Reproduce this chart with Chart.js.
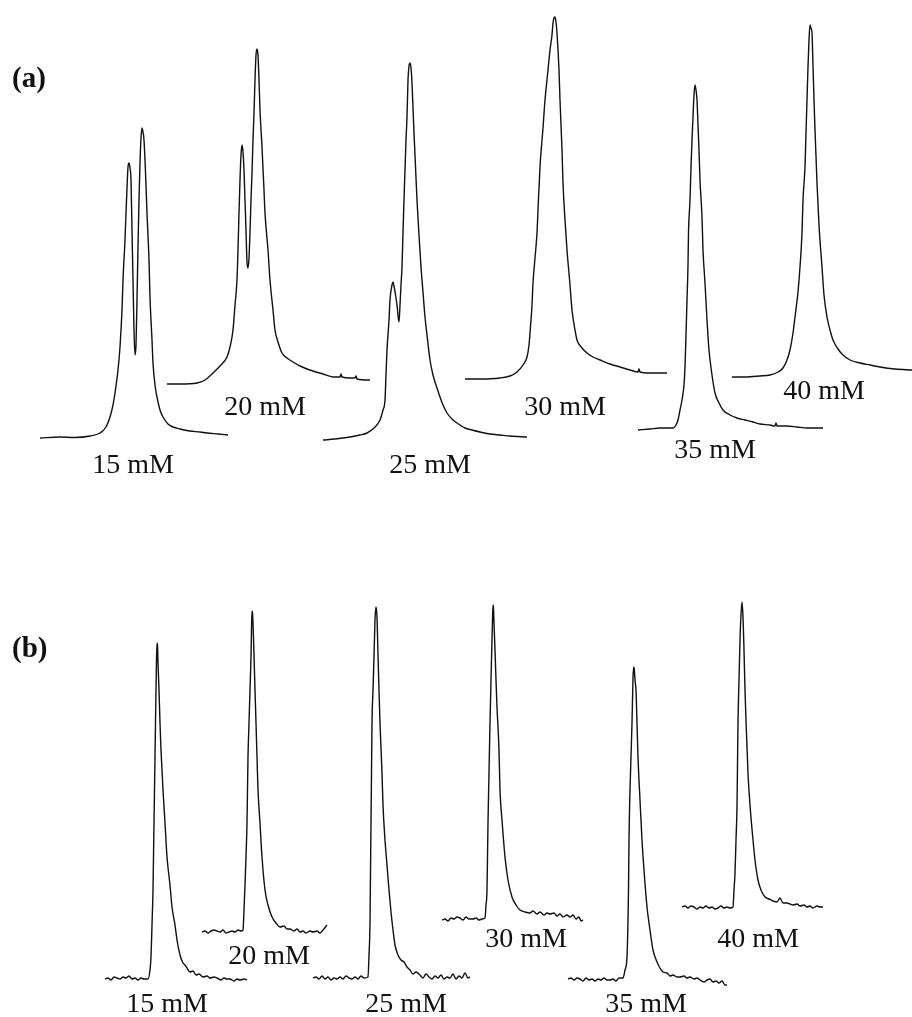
<!DOCTYPE html>
<html>
<head>
<meta charset="utf-8">
<script src="https://cdn.jsdelivr.net/npm/chart.js@4.4.1/dist/chart.umd.min.js"></script>
<style>
html,body{margin:0;padding:0;background:#fff;}
#wrap{width:912px;height:1017px;position:relative;}
</style>
</head>
<body>
<div id="wrap"><canvas id="c" width="912" height="1017"></canvas></div>
<script>
// Panel labels and concentration labels
const panelLabels = ["(a)", "(b)"];
const concLabels = ["15 mM", "20 mM", "25 mM", "30 mM", "35 mM", "40 mM"];

// Panel (a) traces: [position, signal] pairs (signal axis grows downward in picture units)
const a15 = [[40,438],[60,437],[75,437.5],[90,436],[100,433],[106,427],[110,417],[113,405],[115,393],[118,370],[120,347],[122,310],[123,280],[125,240],[126,213],[127,188],[128,167],[129,163],[130,168],[131,180],[132,230],[133,280],[134,330],[135,355],[136,345],[137,300],[138,247],[139,200],[140,163],[141,138],[142,128],[143,132],[144,140],[146,185],[147,213],[149,260],[150,297],[152,340],[153,363],[155,385],[157,397],[160,410],[163,417],[168,424],[173,427],[180,429],[190,431],[200,432],[207,433],[218,434],[228,435]];
const a20 = [[167,384],[180,384],[197,383],[205,380],[213,373],[220,366],[227,357],[230,347],[233,330],[235,305],[237,280],[238,250],[239,213],[240,180],[241,155],[242,145],[243,152],[244,170],[245,200],[246,230],[247,262],[248,268],[249,258],[250,232],[251,200],[252,173],[253,140],[254,113],[255,80],[256,55],[257,49],[258,55],[259,80],[260,110],[262,147],[264,190],[265,213],[268,250],[270,280],[273,310],[275,330],[278,342],[282,353],[287,358],[293,362],[300,366],[313,371],[323,374],[333,377],[340,377],[341,374],[342,377],[350,378],[355,378],[356,376],[357,379],[370,380]];
const a25 = [[323,440],[335,439],[350,437],[360,435],[367,433],[374,428],[380,420],[383,410],[385,400],[386,375],[387,350],[389,320],[390,300],[392,285],[393,282],[394,286],[396,298],[397,305],[399,322],[400,305],[401,285],[402,267],[403,233],[404,200],[405,170],[406,140],[407,117],[408,80],[409,66],[410,63],[411,68],[412,83],[413,108],[414,133],[415,155],[417,200],[419,235],[421,267],[423,292],[425,317],[427,335],[430,360],[433,375],[437,388],[440,397],[443,405],[447,413],[452,419],[457,423],[465,428],[472,430],[480,432],[490,434],[500,435],[510,436],[527,437]];
const a30 = [[465,379],[480,379],[500,378],[510,376],[517,372],[523,365],[527,357],[529,345],[530,333],[532,305],[533,283],[535,258],[537,233],[538,210],[540,167],[543,128],[545,100],[548,70],[550,50],[552,35],[553,23],[554,18],[555,17],[556,22],[557,33],[559,70],[560,100],[562,150],[563,183],[565,220],[567,250],[570,285],[572,310],[575,330],[577,340],[582,348],[587,353],[593,357],[600,360],[610,364],[620,367],[630,370],[638,372],[639,369],[640,372],[650,373],[667,373]];
const a35 = [[638,430],[650,429],[660,428],[673,428],[676,425],[678,420],[680,410],[682,400],[684,385],[685,367],[686,335],[687,300],[688,265],[688.5,233],[690,200],[691,167],[692,140],[693,117],[694,95],[695,85],[696,90],[697,100],[698,125],[699,150],[700,180],[702,217],[703,250],[705,283],[707,320],[709,350],[712,375],[715,393],[719,403],[723,410],[730,415],[737,418],[745,420],[753,422],[760,424],[770,425],[775,426],[776,423],[777,426],[787,426],[797,427],[807,428],[815,428],[823,428]];
const a40 = [[732,377],[745,377],[760,376],[770,375],[778,372],[783,368],[787,360],[790,350],[793,333],[795,317],[798,292],[800,267],[802,233],[803,200],[805,167],[806,133],[807,100],[808,67],[809,40],[810,25],[811,28],[812,33],[813,66],[814,100],[815,130],[817,183],[819,225],[822,267],[824,295],[827,317],[830,330],[833,340],[838,349],[843,355],[850,360],[860,363],[870,365],[880,367],[895,369],[912,370]];

// Panel (b) traces
const b15 = [[105,979],[108,978],[111,980],[114,977],[117,978],[120,979],[123,977],[126,978],[129,976],[132,979],[135,978],[138,980],[141,978],[144,979],[148,979],[150,970],[151,957],[152,925],[153,890],[153.5,857],[154,823],[154.5,790],[155,757],[155.5,723],[156,690],[156.5,660],[157,643],[157.5,645],[158,663],[159,690],[160,723],[161,750],[163,790],[165,823],[167,857],[170,885],[172,907],[175,925],[177,940],[180,955],[183,963],[185,965],[187,968],[190,972],[193,971],[196,975],[199,974],[203,977],[207,976],[210,978],[214,977],[217,978],[221,980],[224,978],[227,979],[230,979],[234,981],[237,979],[240,980],[244,979],[247,980]];
const b20 = [[202,932],[205,931],[208,933],[211,931],[214,930],[217,931],[220,932],[223,930],[226,933],[229,932],[232,931],[235,932],[238,930],[241,931],[243,930],[244,910],[245,885],[246,857],[247,823],[247.5,790],[248,757],[249,723],[250,690],[251,657],[251.5,630],[252,611],[252.5,613],[253,623],[254,655],[255,690],[256,723],[257,757],[258,790],[260,823],[262,857],[265,890],[268,905],[272,917],[276,923],[280,927],[284,926],[287,929],[290,929],[294,931],[297,929],[300,932],[303,931],[306,933],[310,931],[313,932],[317,931],[320,933],[323,930],[327,925]];
const b25 = [[313,978],[316,977],[319,979],[322,976],[325,979],[328,977],[331,980],[334,978],[337,979],[340,977],[343,979],[346,976],[349,978],[352,979],[355,977],[358,979],[361,976],[364,978],[368,977],[369,955],[370,923],[370.5,873],[371,823],[371.5,773],[372,723],[373,690],[374,657],[375,620],[376,607],[377,617],[378,655],[379,690],[380,723],[382,773],[383,805],[385,840],[387,865],[389,890],[391,912],[393,930],[395,945],[398,955],[401,960],[404,962],[407,967],[410,970],[413,974],[416,972],[420,975],[423,978],[426,974],[429,977],[432,979],[435,976],[438,978],[441,975],[444,979],[447,977],[450,978],[453,974],[456,979],[459,976],[462,978],[465,973],[468,978],[470,977]];
const b30 = [[442,920],[445,919],[448,921],[451,918],[454,919],[457,917],[460,918],[463,920],[466,917],[469,919],[473,919],[476,918],[479,920],[482,919],[485,918],[486,905],[487,890],[487.5,857],[488,823],[489,773],[490,723],[491,680],[492,640],[492.5,620],[493,605],[493.5,608],[494,623],[495,650],[496,680],[497,707],[499,750],[500,790],[502,820],[505,857],[508,880],[512,897],[516,905],[520,910],[525,912],[530,913],[533,911],[537,914],[540,912],[544,915],[547,913],[550,914],[554,913],[557,916],[560,914],[563,917],[567,915],[570,917],[573,915],[576,919],[579,917],[581,921],[583,920]];
const b35 = [[568,979],[571,978],[574,980],[577,978],[580,979],[583,981],[586,978],[589,980],[592,979],[595,981],[598,979],[601,980],[604,978],[607,980],[610,980],[613,979],[616,981],[619,978],[623,978],[625,970],[627,957],[628,920],[628.5,890],[629,840],[630,790],[631,757],[632,723],[632.5,700],[633,678],[633.7,667],[634.3,669],[635,680],[636,690],[637,723],[638,757],[640,800],[642,840],[644,870],[647,907],[650,930],[653,950],[657,962],[660,968],[663,972],[667,973],[670,976],[673,975],[677,977],[680,977],[684,976],[687,978],[690,977],[694,979],[697,978],[700,980],[704,982],[707,980],[710,979],[713,982],[716,981],[719,983],[722,981],[725,985],[727,985]];
const b40 = [[682,907],[685,906],[688,908],[691,906],[694,907],[697,909],[700,907],[703,908],[706,906],[709,908],[712,907],[715,909],[718,908],[721,906],[724,908],[727,907],[730,908],[733,907],[734,890],[735,873],[736,840],[737,807],[737.5,765],[738,723],[739,680],[740,640],[741,615],[742,602],[743,617],[744,650],[745,690],[746,720],[748,773],[750,805],[753,840],[755,860],[758,880],[761,890],[765,897],[769,899],[773,901],[777,902],[780,898],[783,903],[787,903],[790,904],[793,905],[797,904],[800,906],[804,905],[807,907],[810,906],[813,908],[817,906],[820,907],[823,907]];

// Text anchors in the same picture units (x centre, baseline)
const panelLabelAt = [[12,87],[12,657]];
const concLabelAtA = [[133,473],[265,415],[430,473],[565,415],[715,458],[824,399]];
const concLabelAtB = [[167,1012],[269,964],[406,1012],[526,947],[646,1012],[758,947]];

const tracesA = [a15, a20, a25, a30, a35, a40];
const tracesB = [b15, b20, b25, b30, b35, b40];

function toXY(arr){ return arr.map(p => ({x:p[0], y:p[1]})); }

const datasets = [];
tracesA.forEach((t,i) => datasets.push({label:'(a) '+concLabels[i], data:toXY(t)}));
tracesB.forEach((t,i) => datasets.push({label:'(b) '+concLabels[i], data:toXY(t)}));
datasets.forEach(d => {
  d.showLine = true;
  d.borderColor = '#111';
  d.borderWidth = 1.4;
  d.pointRadius = 0;
  d.fill = false;
  d.cubicInterpolationMode = 'monotone';
  d.borderJoinStyle = 'round';
});

const textPlugin = {
  id: 'textLabels',
  afterDatasetsDraw(chart){
    const ctx = chart.ctx;
    const xs = chart.scales.x, ys = chart.scales.y;
    ctx.save();
    ctx.fillStyle = '#111';
    ctx.textBaseline = 'alphabetic';
    ctx.font = 'bold 29px "Liberation Serif", "Times New Roman", serif';
    ctx.textAlign = 'left';
    panelLabels.forEach((t,i) => {
      ctx.fillText(t, xs.getPixelForValue(panelLabelAt[i][0]), ys.getPixelForValue(panelLabelAt[i][1]));
    });
    ctx.font = '28px "Liberation Serif", "Times New Roman", serif';
    ctx.textAlign = 'center';
    concLabels.forEach((t,i) => {
      ctx.fillText(t, xs.getPixelForValue(concLabelAtA[i][0]), ys.getPixelForValue(concLabelAtA[i][1]));
      ctx.fillText(t, xs.getPixelForValue(concLabelAtB[i][0]), ys.getPixelForValue(concLabelAtB[i][1]));
    });
    ctx.restore();
  }
};

new Chart(document.getElementById('c'), {
  type: 'scatter',
  data: { datasets },
  options: {
    responsive: false,
    animation: false,
    layout: { padding: 0 },
    plugins: { legend: {display:false}, tooltip: {enabled:false} },
    scales: {
      x: { type:'linear', min:0, max:912, display:false },
      y: { type:'linear', min:0, max:1017, reverse:true, display:false }
    }
  },
  plugins: [textPlugin]
});
</script>
</body>
</html>
